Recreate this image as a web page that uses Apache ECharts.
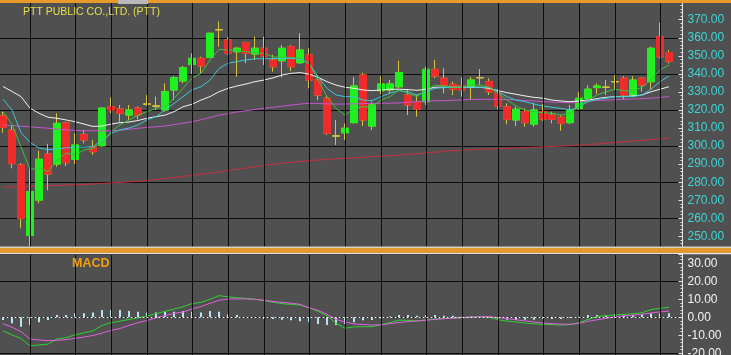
<!DOCTYPE html>
<html><head><meta charset="utf-8">
<script src="https://cdn.jsdelivr.net/npm/echarts@6/dist/echarts.min.js"></script>
<style>html,body{margin:0;padding:0;background:#505050}#c{width:731px;height:355px}</style>
</head><body><div id="c"></div>
<script>
const chartTitle = 'PTT PUBLIC CO.,LTD. (PTT)';
const macdTitle = 'MACD';
const days = ['1','2','3','4','5','6','7','8','9','10','11','12','13','14','15','16','17','18','19','20','21','22','23','24','25','26','27','28','29','30','31','32','33','34','35','36','37','38','39','40','41','42','43','44','45','46','47','48','49','50','51','52','53','54','55','56','57','58','59','60','61','62','63','64','65','66','67','68','69','70','71','72','73','74','75'];
const open  = [316.7,308.9,289.5,250.5,270.1,295.6,290.1,312.8,292.7,306.5,299.7,300.2,321.8,320.5,317.2,321.0,323.3,322.2,320.0,331.1,336.1,345.3,348.6,349.2,364.5,358.8,352.3,357.3,351.0,354.2,347.7,347.3,355.1,346.2,350.5,336.6,326.5,305.6,307.4,313.0,339.4,311.1,330.7,331.1,332.9,328.3,324.6,324.6,342.5,337.6,334.2,333.3,332.6,337.9,335.7,329.3,321.8,314.5,319.1,312.2,319.1,317.2,316.0,313.0,320.9,326.5,332.4,332.6,335.7,337.6,328.3,337.6,335.7,360.6,351.8];
const close = [310.4,290.3,260.0,274.7,292.7,284.5,312.6,290.8,300.6,303.4,296.9,321.0,320.0,318.2,320.0,317.2,323.3,322.2,330.1,337.9,343.4,348.6,344.5,362.5,364.5,351.4,354.2,351.4,354.2,349.9,344.0,354.2,344.0,353.2,336.6,328.3,307.1,305.6,309.9,333.3,314.5,322.8,334.4,334.4,340.7,322.8,320.4,342.5,338.8,333.8,331.5,331.1,336.6,337.9,330.1,322.2,314.8,320.4,313.0,320.0,315.0,314.8,312.6,320.0,326.5,331.5,333.3,332.6,335.7,328.3,336.6,333.8,354.2,349.5,347.0];
const low   = [307.4,287.7,254.5,244.5,268.3,275.5,288.6,289.0,290.1,301.5,295.1,299.6,318.2,313.5,314.5,314.8,322.3,320.0,319.1,325.5,334.8,339.9,340.3,348.7,355.0,350.5,338.4,345.9,347.7,344.9,341.2,338.0,341.5,345.5,332.0,325.5,306.1,300.6,303.4,312.6,311.1,308.9,328.9,329.3,332.0,317.2,316.3,322.8,337.6,329.3,328.3,327.4,325.5,333.8,328.3,320.4,312.2,311.1,310.7,310.7,314.0,312.6,308.5,312.2,320.0,324.6,328.9,328.3,331.1,326.0,327.0,330.1,331.1,348.6,345.9];
const high  = [319.0,311.7,290.6,288.0,297.5,301.3,318.2,313.5,307.1,309.0,303.4,321.5,327.0,322.8,322.8,322.0,328.3,327.4,334.8,338.8,344.4,351.4,349.5,362.9,369.0,360.3,355.0,357.8,360.6,360.6,350.5,356.0,356.0,362.5,354.2,339.4,328.3,314.5,312.6,338.4,340.7,324.6,338.8,336.6,347.3,331.1,328.3,344.0,347.7,343.1,335.7,338.1,338.4,342.7,337.6,331.5,323.7,321.8,320.9,324.0,323.3,319.1,317.2,322.8,330.1,333.8,334.8,336.6,339.4,338.8,338.8,338.1,355.1,368.4,353.2];
const maGreen = [319,312,299.5,287,288,285.8,292.3,296.2,295.1,297.8,298.8,301.6,308,311.7,314.5,317.2,319.1,320.9,321.8,326.5,332,337.6,340.3,347.7,353.6,353.2,352.9,352.3,351.7,351.4,349.5,349.2,349.2,348.6,345.9,336.6,327.4,320.9,317.2,320.9,321.8,321.8,325.5,327.4,331.1,329.3,327.4,331.1,333.8,333.3,332.6,332.6,333.8,333.8,332.6,329.3,325.5,322.2,320,319.1,318.5,318.2,317.2,318.2,321.8,325.5,328.3,330.1,331.5,330.7,330.7,332.6,336.6,342.2,344.9];
const maCyan = [326,320,307.5,302,299,298,298.5,299,299.5,299.5,299.7,303,307,309,310,311.7,314.5,316.3,320,323.7,327.4,331.1,332.9,336.6,343,345.9,346.8,347.7,348.4,348.4,348.5,348.6,348.6,348.1,345.9,338.4,332,328.3,327.4,327.4,325.5,325.2,327.4,329.3,330.7,330.1,328.3,330.1,332,332.4,332.6,332.6,332.6,332.6,332.6,330.1,327.4,325.5,324.6,323.3,322.2,321.5,320.9,320,321.8,324.6,325.9,326.5,327.4,327.4,327.4,328.3,331.5,335.7,338.8];
const maWhite = [333,330.3,327.4,321,318.2,316,315.4,314.5,313.5,312.2,310.9,311.1,312.2,313,313.3,314.2,315.4,316.3,317.2,319.1,321.8,323.2,325.5,327.4,330.1,332,333.3,334.4,335.7,336.6,337.8,339.4,340.3,340.7,339.9,338.1,335.7,333.8,332.6,332,331.1,330.7,331.1,331.5,331.5,331.3,330.9,331.5,332.6,332.6,332.6,332.6,332.6,332.6,332,330.7,329.6,328.7,327.8,327,326.5,325.5,325,324.6,325,325.5,326.3,327,327.4,327.4,327.8,328.3,330.1,331.5,332.9];
const maViolet = [311.7,311.3,311,310.7,310.3,309.9,309.4,309,308.7,308.5,308.5,308.5,308.5,308.8,309.3,309.9,310.3,310.7,311.1,311.9,312.7,313.5,314.6,315.8,317.2,318,318.9,319.6,320.3,320.9,321.5,322.1,322.7,323.3,323.7,323.6,323.4,323.3,323.3,323.4,323.5,323.6,323.7,323.8,323.9,324.3,324.6,324.9,325.1,325.2,325.4,325.6,325.8,325.9,325.9,325.9,325.8,325.6,325.3,325,324.6,324.4,324.2,324,324.3,325,325.3,325.5,325.7,325.9,326.1,326.3,326.6,327,327.4];
const maRed = [277.3,277.4,277.5,277.6,277.8,278.0,278.2,278.4,278.6,278.8,279.0,279.3,279.6,279.9,280.2,280.5,281.0,281.5,282.0,282.6,283.2,283.8,284.4,285.0,285.7,286.5,287.2,287.9,288.6,289.3,290.0,290.5,291.0,291.5,291.9,292.3,292.6,292.9,293.2,293.5,293.8,294.1,294.4,294.7,295.0,295.4,295.8,296.2,296.6,297.0,297.4,297.8,298.0,298.2,298.4,298.6,298.8,299.0,299.2,299.4,299.6,299.8,300.0,300.2,300.5,300.8,301.2,301.6,302.0,302.4,302.8,303.2,303.6,304.0,304.3];
const macdLine = [-7.5,-9.8,-11.7,-15.8,-15.4,-14.9,-12.0,-11.3,-9.8,-8.6,-7.6,-4.5,-3.0,-2.1,-1.2,-0.3,0.7,2.0,3.3,4.6,5.8,7.6,8.3,10.0,12.0,11.4,10.9,10.5,10.0,9.3,8.4,7.6,7.2,6.8,5.4,3.3,0.9,-3.3,-6.1,-5.3,-5.2,-5.2,-4.1,-2.9,-1.6,-1.7,-2.0,-1.5,-0.9,-0.6,-0.4,-0.2,0.1,0.4,0.0,-1.4,-2.1,-2.6,-3.2,-3.6,-3.9,-4.1,-4.3,-4.0,-3.0,-1.2,0.4,0.9,1.3,1.6,2.0,2.5,4.3,5.0,5.6];
const signalLine = [-3.6,-5.5,-8.0,-12.1,-12.6,-13.0,-12.8,-12.4,-11.7,-11.0,-10.1,-8.8,-7.3,-6.2,-4.5,-3.0,-1.8,-0.3,1.0,2.2,2.9,4.6,6.0,7.8,9.4,10.2,10.2,10.2,10.0,9.5,8.8,8.3,7.8,7.2,5.3,3.9,1.7,-1.2,-2.6,-3.7,-4.0,-4.3,-4.2,-3.5,-2.9,-2.4,-2.0,-1.6,-1.2,-0.8,-0.5,-0.2,0.1,0.3,0.4,-0.2,-0.7,-1.4,-2.0,-2.6,-3.2,-3.5,-3.8,-3.9,-3.4,-2.2,-1.4,-0.6,0.3,0.9,1.2,1.7,2.4,3.0,3.5];
const histogram = [-1.5,-3.3,-5.2,-4.3,-2.8,-1.5,1.3,1.3,2.2,2.2,2.6,4.1,4.1,4.1,3.5,3.1,2.6,2.6,3.1,3.1,3.5,3.1,2.6,3.5,3.1,1.7,1.3,0.0,0.2,-0.9,-0.9,-1.3,-1.7,-2.2,-2.8,-3.7,-4.3,-4.3,-3.7,-2.8,-1.7,-1.5,-0.6,0.4,1.3,1.3,0.9,1.3,1.3,0.9,0.9,0.4,0.4,0.4,0.2,-0.9,-1.3,-1.3,-1.3,-1.3,-0.9,-0.9,-0.9,-0.4,0.4,1.3,1.3,1.3,1.7,0.9,1.3,1.7,2.2,2.2,2.2];
const gridDays = [3,8,12,16,21,25,29,34,38,42,47,51,55,60,64,68,73];
const lastPrice = 347.00;

const FONT = 'Liberation Sans';
const cats = days.concat(['']);
const wickData = open.map((o, i) => [o, close[i], low[i], high[i]]);
const bodyData = open.map((o, i) => [o, close[i], Math.min(o, close[i]), Math.max(o, close[i])]);
const vlines = gridDays.map(d => ({ xAxis: days[d] }));

const chart = echarts.init(document.getElementById('c'));
const lineS = (name, data, color, z) => ({
  name, type: 'line', data, xAxisIndex: 0, yAxisIndex: 0, symbol: 'none', z,
  lineStyle: { color, width: 1 }, silent: true
});
const valueAxis = (grid, min, max, color) => ({
  type: 'value', gridIndex: grid, position: 'right', min, max, interval: 10,
  axisLine: { show: true, lineStyle: { color: '#e6e6e6', width: 1 } },
  axisTick: { show: true, inside: true, length: 4, lineStyle: { color: '#e6e6e6' } },
  minorTick: { show: true, splitNumber: 5, length: 2, lineStyle: { color: '#e6e6e6' } },
  axisLabel: { color, fontSize: 12, fontFamily: FONT, margin: 5, showMinLabel: false, showMaxLabel: false,
    formatter: v => v.toFixed(2) },
  splitLine: { show: false }
});
const gridAxis = (grid, min, max) => ({
  type: 'value', gridIndex: grid, position: 'right', min, max, interval: 20,
  axisLine: { show: false }, axisTick: { show: false }, axisLabel: { show: false },
  splitLine: { show: true, lineStyle: { color: '#0c0c0c', width: 1 } }
});

chart.setOption({
  backgroundColor: '#505050',
  animation: false,
  title: [
    { text: chartTitle, left: 23, top: 7, padding: 0, textStyle: { color: '#e2e04a', fontSize: 10.5, fontWeight: 'normal', fontFamily: FONT } },
    { text: macdTitle, left: 72, top: 257, padding: 0, textStyle: { color: '#f0a010', fontSize: 12.5, fontWeight: 'bold', fontFamily: FONT } }
  ],
  grid: [
    { left: -1.5, width: 684, top: 1.7, height: 252.7, outerBoundsMode: 'none', containLabel: false },
    { left: -1.5, width: 684, top: 254.3, height: 135, outerBoundsMode: 'none', containLabel: false }
  ],
  xAxis: [
    { type: 'category', data: cats, gridIndex: 0, show: false },
    { type: 'category', data: cats, gridIndex: 1, show: false }
  ],
  yAxis: [
    valueAxis(0, 240, 380, '#3ad6d6'),
    gridAxis(0, 240, 380),
    valueAxis(1, -40, 35, '#f2f2f2'),
    gridAxis(1, -40, 35)
  ],
  series: [
    Object.assign(lineS('MA200', maRed, '#c8303e', 1), {
      markLine: { silent: true, symbol: ['none', 'none'], label: { show: false },
        lineStyle: { color: '#0c0c0c', width: 1, type: 'solid' }, data: vlines }
    }),
    { name: 'wick', type: 'candlestick', data: wickData, xAxisIndex: 0, yAxisIndex: 0, barWidth: 8, z: 2, silent: true,
      itemStyle: { color: '#d6c43a', color0: '#d6c43a', borderColor: '#d6c43a', borderColor0: '#d6c43a', borderColorDoji: '#d6c43a', borderWidth: 1 } },
    { name: 'body', type: 'candlestick', data: bodyData, xAxisIndex: 0, yAxisIndex: 0, barWidth: 8, z: 3, silent: true,
      itemStyle: { color: '#1ff01f', color0: '#f02b2b', borderColor: '#1ff01f', borderColor0: '#f02b2b', borderColorDoji: '#d6c43a', borderWidth: 1 },
      markLine: { silent: true, symbol: ['none', 'none'], lineStyle: { opacity: 0 },
        label: { position: 'end', distance: 2, formatter: p => p.value.toFixed(2), backgroundColor: '#ffff00', color: '#000',
          fontSize: 12, fontFamily: FONT, padding: [1, 3, 0, 3] },
        data: [{ yAxis: lastPrice }] } },
    lineS('MA50', maViolet, '#c656cc', 4),
    lineS('MA25', maWhite, '#f2f2f2', 4),
    lineS('MA10', maCyan, '#3cc8d8', 4),
    lineS('MA5', maGreen, '#3cc23c', 4),
    { name: 'hist', type: 'bar', data: histogram, xAxisIndex: 1, yAxisIndex: 2, barWidth: 2, z: 1, silent: true,
      itemStyle: { color: '#b4e6f2' },
      markLine: { silent: true, symbol: ['none', 'none'], label: { show: false },
        lineStyle: { color: '#0c0c0c', width: 1, type: 'solid' },
        data: vlines.concat([{ yAxis: 0, lineStyle: { color: '#f0f0f0', width: 1, type: [2, 2] } }]) } },
    { name: 'MACD', type: 'line', data: macdLine, xAxisIndex: 1, yAxisIndex: 2, symbol: 'none', z: 3, silent: true,
      lineStyle: { color: '#2ed02e', width: 1 } },
    { name: 'Signal', type: 'line', data: signalLine, xAxisIndex: 1, yAxisIndex: 2, symbol: 'none', z: 3, silent: true,
      lineStyle: { color: '#e060e0', width: 1 } }
  ],
  graphic: [
    { type: 'rect', z: 100, silent: true, shape: { x: 0, y: 0, width: 731, height: 3 }, style: { fill: '#e89a2a' } },
    { type: 'rect', z: 101, silent: true, shape: { x: 118, y: 0, width: 30, height: 4 }, style: { fill: '#b9b9b9' } },
    { type: 'rect', z: 100, silent: true, shape: { x: 0, y: 246.5, width: 731, height: 1.5 }, style: { fill: '#d8d2c4' } },
    { type: 'rect', z: 100, silent: true, shape: { x: 0, y: 248, width: 731, height: 5 }, style: { fill: '#e09a30' } },
    { type: 'rect', z: 100, silent: true, shape: { x: 0, y: 253, width: 731, height: 1.3 }, style: { fill: '#e4e4e4' } }
  ]
});
</script></body></html>
